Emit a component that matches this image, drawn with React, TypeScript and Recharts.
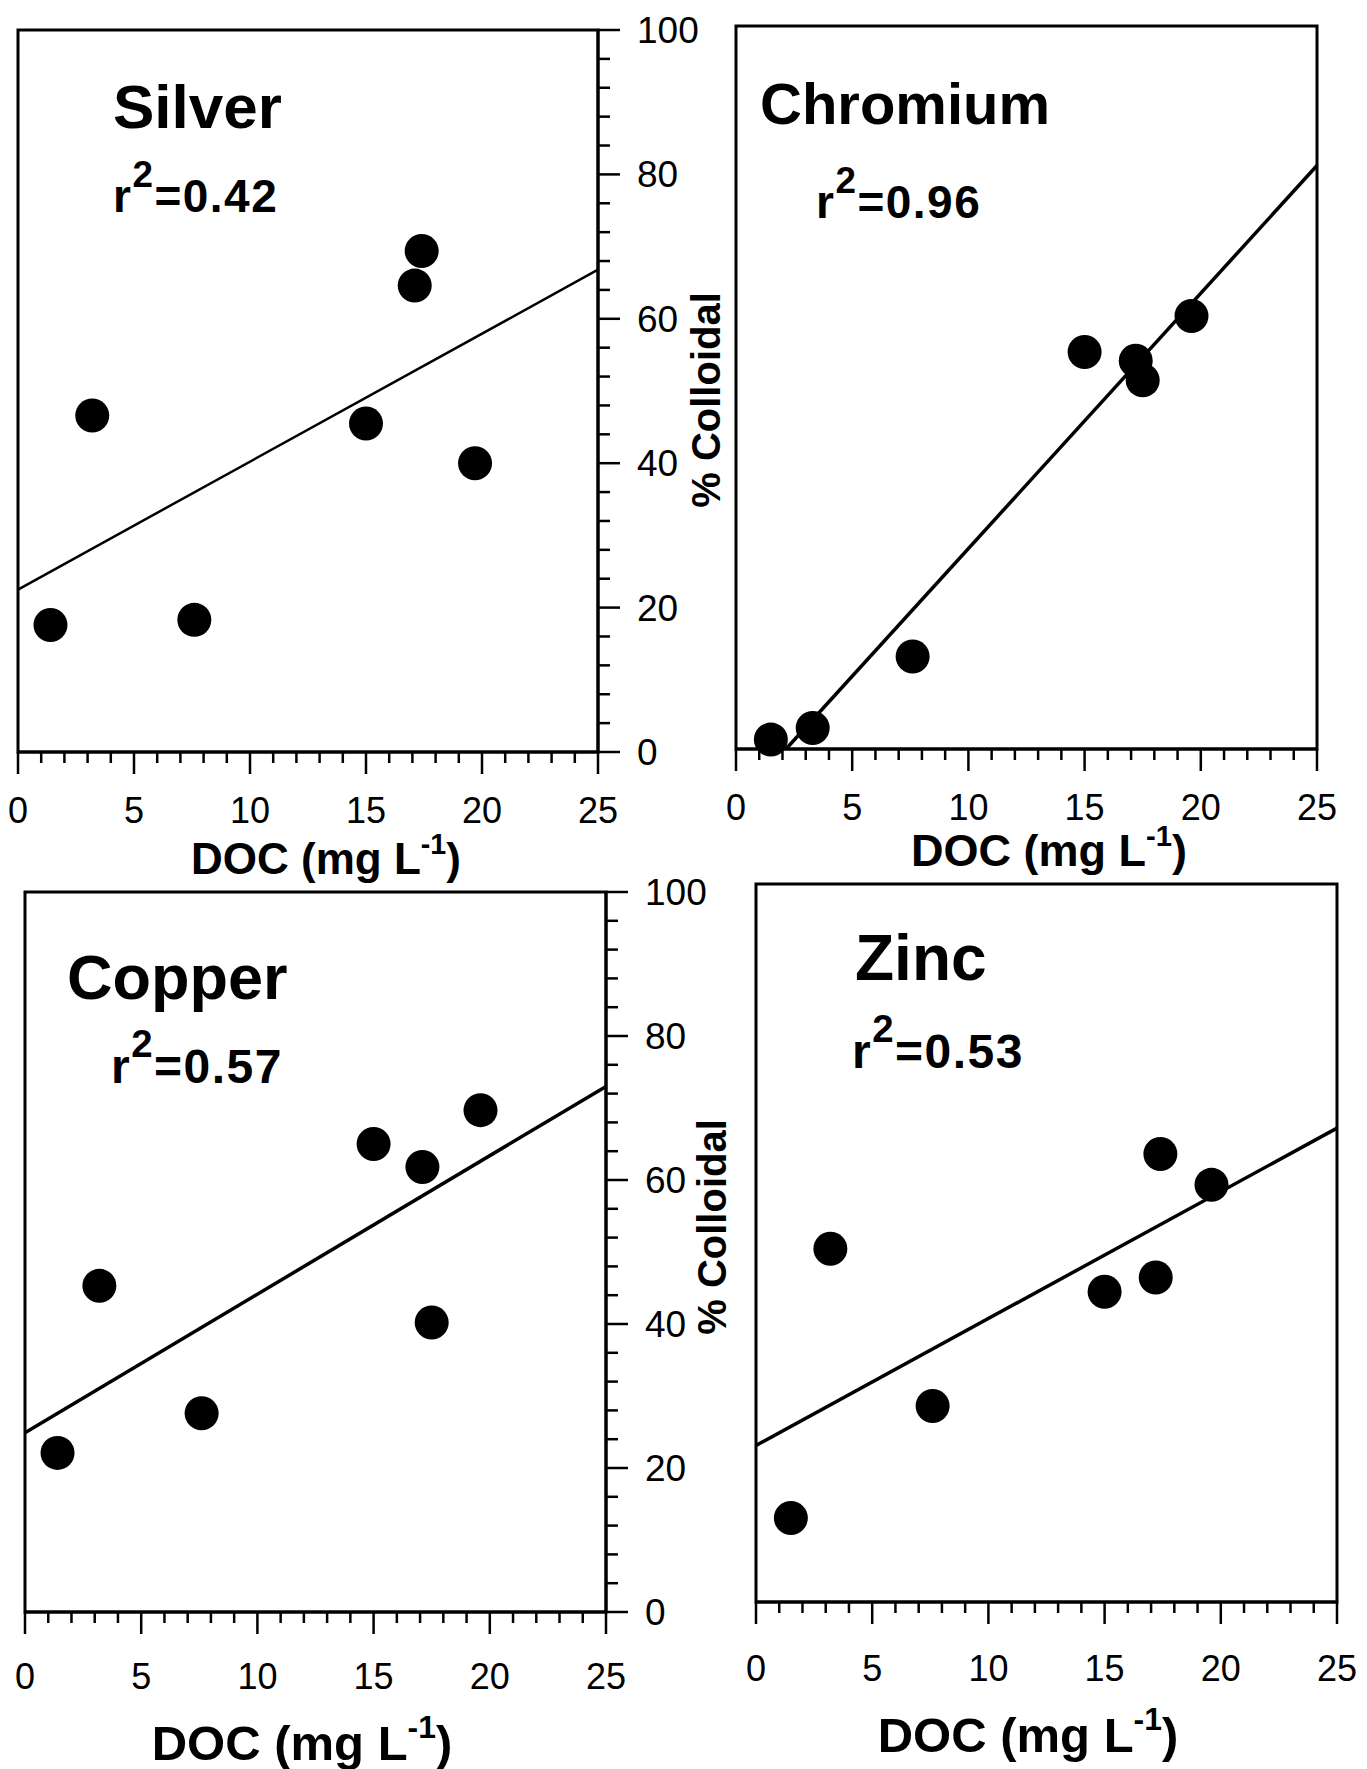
import React from 'react';
import { ScatterChart, Scatter, XAxis, YAxis, ReferenceArea } from 'recharts';

type Pt = { x: number; y: number };

// DOC (mg L-1) axis ticks, every 1, labelled every 5
const docTicks = [0, 1, 2, 3, 4, 5, 6, 7, 8, 9, 10, 11, 12, 13, 14, 15, 16, 17, 18, 19, 20, 21, 22, 23, 24, 25];
// % colloidal axis ticks, every 4, labelled every 20
const pctTicks = [0, 4, 8, 12, 16, 20, 24, 28, 32, 36, 40, 44, 48, 52, 56, 60, 64, 68, 72, 76, 80, 84, 88, 92, 96, 100];

const silverPts: Pt[] = [
  { x: 1.4, y: 17.6 }, { x: 3.2, y: 46.6 }, { x: 7.6, y: 18.3 }, { x: 15.0, y: 45.5 },
  { x: 17.1, y: 64.6 }, { x: 17.4, y: 69.4 }, { x: 19.7, y: 40.0 },
];
const silverFit: Pt[] = [{ x: 0, y: 22.5 }, { x: 25, y: 66.8 }];

const chromiumPts: Pt[] = [
  { x: 1.5, y: 1.3 }, { x: 3.3, y: 2.9 }, { x: 7.6, y: 12.8 }, { x: 15.0, y: 54.9 },
  { x: 17.2, y: 53.7 }, { x: 17.5, y: 51.0 }, { x: 19.6, y: 59.9 },
];
const chromiumFit: Pt[] = [{ x: 2.15, y: 0 }, { x: 25, y: 80.7 }];

const copperPts: Pt[] = [
  { x: 1.4, y: 22.1 }, { x: 3.2, y: 45.3 }, { x: 7.6, y: 27.6 }, { x: 15.0, y: 65.0 },
  { x: 17.1, y: 61.8 }, { x: 17.5, y: 40.2 }, { x: 19.6, y: 69.7 },
];
const copperFit: Pt[] = [{ x: 0, y: 24.9 }, { x: 25, y: 73.0 }];

const zincPts: Pt[] = [
  { x: 1.5, y: 11.7 }, { x: 3.2, y: 49.2 }, { x: 7.6, y: 27.3 }, { x: 15.0, y: 43.2 },
  { x: 17.2, y: 45.2 }, { x: 17.4, y: 62.4 }, { x: 19.6, y: 58.1 },
];
const zincFit: Pt[] = [{ x: 0, y: 21.8 }, { x: 25, y: 66.0 }];

const FONT = '"Liberation Sans", Arial, Helvetica, sans-serif';
const M = 40;
const Y_AXIS_W = 110;
const X_AXIS_H = 100;

const XTick = (props: any) => {
  const { x, y, payload, gap } = props;
  const v = payload.value;
  const major = v % 5 === 0;
  return (
    <g>
      <line x1={x} y1={y} x2={x} y2={y + (major ? 22 : 11)} stroke="#000" strokeWidth={2.5} />
      {major && (
        <text x={x} y={y + gap} textAnchor="middle" fontSize={36} fontFamily={FONT} fill="#000">{v}</text>
      )}
    </g>
  );
};

const YTick = (props: any) => {
  const { x, y, payload } = props;
  const v = payload.value;
  const major = v % 20 === 0;
  return (
    <g>
      <line x1={x} y1={y} x2={x + (major ? 22 : 12)} y2={y} stroke="#000" strokeWidth={2.5} />
      {major && (
        <text x={x + 39} y={y + 13} textAnchor="start" fontSize={37} fontFamily={FONT} fill="#000">{v}</text>
      )}
    </g>
  );
};

const Dot = (p: any) => <circle cx={p.cx} cy={p.cy} r={17} fill="#000" />;

const Panel = ({ px, py, pw, ph, points, fit, rightAxis, gap, fitWidth }: {
  px: number; py: number; pw: number; ph: number; points: Pt[]; fit: Pt[];
  rightAxis: boolean; gap: number; fitWidth: number;
}) => {
  const width = M + pw + (rightAxis ? Y_AXIS_W : 0) + M;
  const height = M + ph + X_AXIS_H + M;
  return (
    <div style={{ position: 'absolute', left: px - M, top: py - M }}>
      <ScatterChart width={width} height={height} margin={{ top: M, right: M, bottom: M, left: M }}>
        <XAxis type="number" dataKey="x" domain={[0, 25]} ticks={docTicks} interval={0} height={X_AXIS_H}
          tickSize={0} tickMargin={0} tickLine={false} axisLine={{ stroke: '#000', strokeWidth: 3 }}
          tick={(p: any) => <XTick {...p} gap={gap} />} />
        <YAxis type="number" dataKey="y" domain={[0, 100]} ticks={pctTicks} interval={0} orientation="right"
          hide={!rightAxis} width={Y_AXIS_W} tickSize={0} tickMargin={0} tickLine={false}
          axisLine={{ stroke: '#000', strokeWidth: 3 }} tick={(p: any) => <YTick {...p} />} />
        <ReferenceArea x1={0} x2={25} y1={0} y2={100} fill="none" fillOpacity={0} stroke="#000" strokeWidth={3} />
        <Scatter data={fit} line={{ stroke: '#000', strokeWidth: fitWidth }} shape={() => <g />} isAnimationActive={false} />
        <Scatter data={points} shape={Dot} isAnimationActive={false} />
      </ScatterChart>
    </div>
  );
};

const R2 = ({ x, y, value, size }: { x: number; y: number; value: string; size: number }) => (
  <text x={x} y={y} fontSize={size} fontWeight="bold" fontFamily={FONT} fill="#000" letterSpacing={1.5}>
    r<tspan dy={-0.55 * size} fontSize={0.8 * size}>2</tspan><tspan dy={0.55 * size}>={value}</tspan>
  </text>
);

const DocLabel = ({ cx, y, size }: { cx: number; y: number; size: number }) => (
  <text x={cx} y={y} textAnchor="middle" fontSize={size} fontWeight="bold" fontFamily={FONT} fill="#000">
    DOC (mg L<tspan dy={-0.45 * size} fontSize={0.65 * size}>-1</tspan><tspan dy={0.45 * size}>)</tspan>
  </text>
);

const YLabel = ({ cx, cy }: { cx: number; cy: number }) => (
  <text transform={`translate(${cx},${cy}) rotate(-90)`} textAnchor="middle" dominantBaseline="central"
    fontSize={40} fontWeight="bold" fontFamily={FONT} fill="#000">% Colloidal</text>
);

export default function App() {
  return (
    <div style={{ position: 'absolute', left: 0, top: 0, width: 1367, height: 1769, background: '#fff', overflow: 'hidden' }}>
      <Panel px={18} py={30} pw={580} ph={722} points={silverPts} fit={silverFit} rightAxis gap={71} fitWidth={2.5} />
      <Panel px={736} py={26} pw={581} ph={723} points={chromiumPts} fit={chromiumFit} rightAxis={false} gap={71} fitWidth={3.5} />
      <Panel px={25} py={892} pw={581} ph={720} points={copperPts} fit={copperFit} rightAxis gap={77} fitWidth={3.5} />
      <Panel px={756} py={884} pw={581} ph={718} points={zincPts} fit={zincFit} rightAxis={false} gap={79} fitWidth={3.5} />
      <svg width={1367} height={1769} style={{ position: 'absolute', left: 0, top: 0, pointerEvents: 'none' }}>
        <text x={113} y={128} fontSize={62} fontWeight="bold" fontFamily={FONT}>Silver</text>
        <R2 x={113} y={212} value="0.42" size={46} />
        <text x={760} y={124} fontSize={58} fontWeight="bold" fontFamily={FONT}>Chromium</text>
        <R2 x={816} y={218} value="0.96" size={46} />
        <text x={67} y={999} fontSize={63} fontWeight="bold" fontFamily={FONT}>Copper</text>
        <R2 x={111} y={1083} value="0.57" size={48} />
        <text x={855} y={980} fontSize={64} fontWeight="bold" fontFamily={FONT}>Zinc</text>
        <R2 x={852} y={1068} value="0.53" size={48} />
        <DocLabel cx={326} y={874} size={44} />
        <DocLabel cx={1049} y={866} size={45} />
        <DocLabel cx={302} y={1760} size={49} />
        <DocLabel cx={1028} y={1752} size={49} />
        <YLabel cx={706} cy={400} />
        <YLabel cx={712} cy={1227} />
      </svg>
    </div>
  );
}
